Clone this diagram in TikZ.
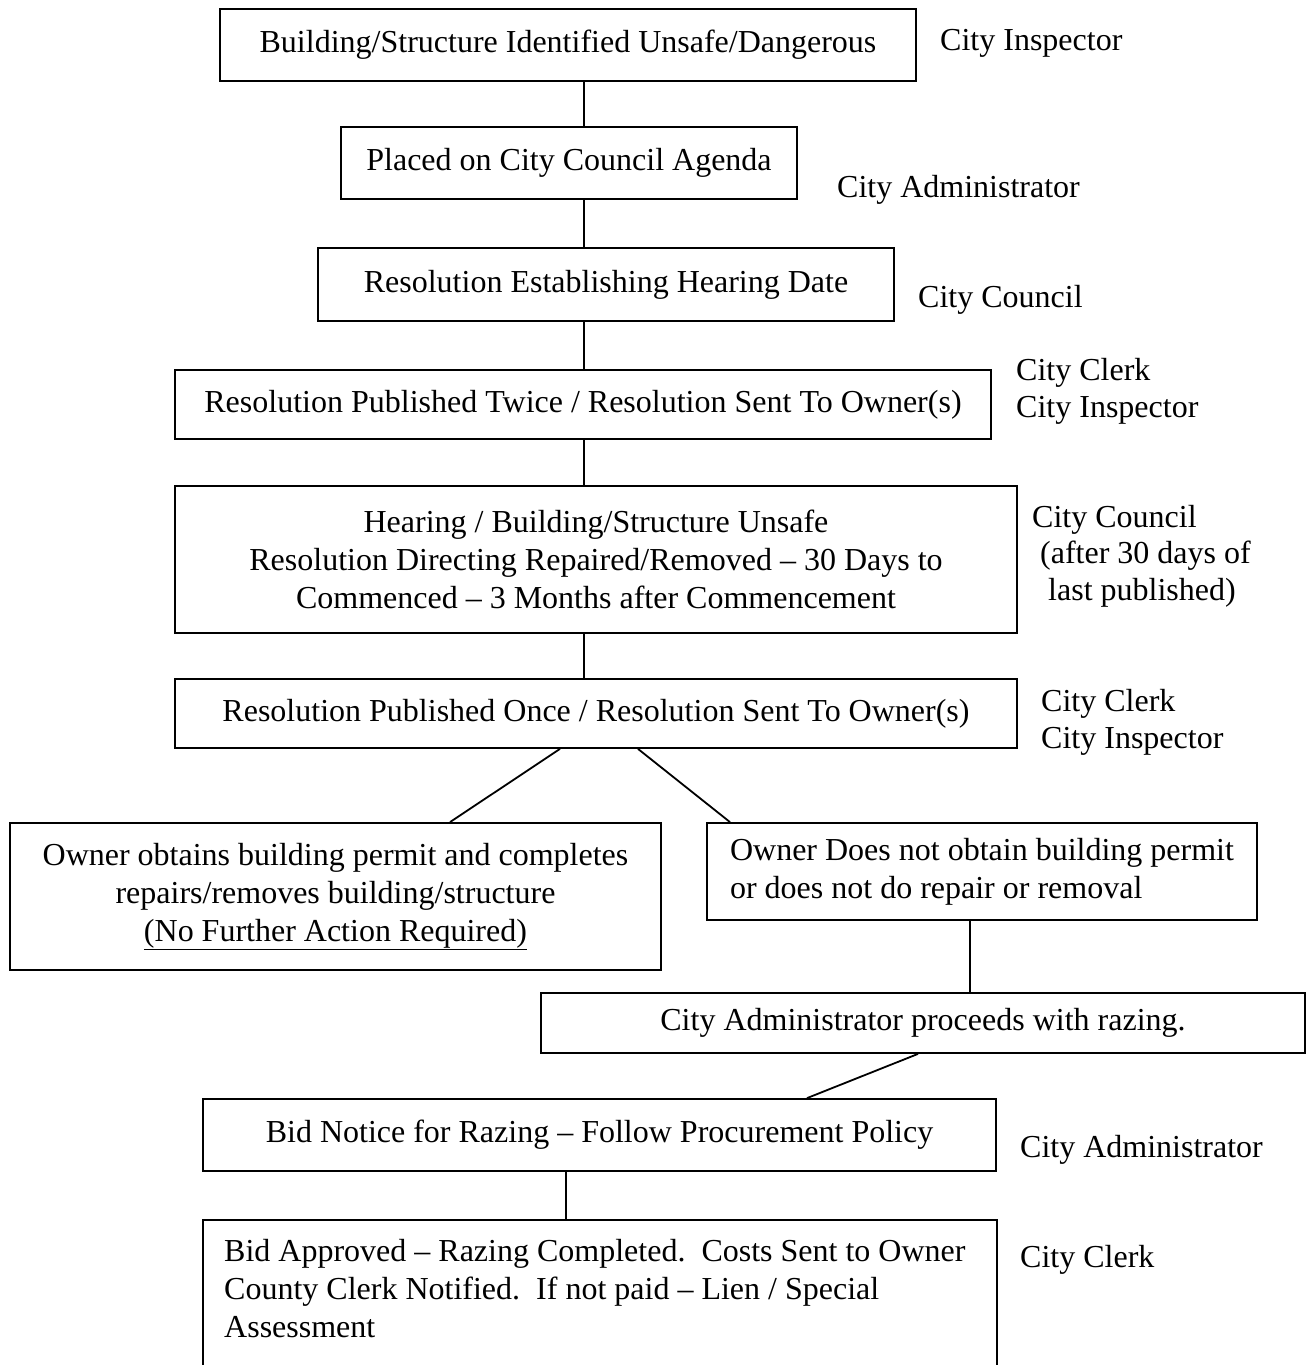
\documentclass[tikz,border=0pt]{standalone}
\usepackage{fontspec}
\setmainfont{Liberation Serif}
\begin{document}
\begin{tikzpicture}[x=1pt,y=-1pt,
  every node/.style={font=\fontsize{32}{38}\selectfont, inner sep=0pt},
  box/.style={draw, line width=1.8pt, align=center},
  lbl/.style={anchor=west, align=left},
  conn/.style={line width=1.8pt}]
\useasboundingbox (0,0) rectangle (1306,1365);
\coordinate (spine) at (584,0);
% boxes
\node[box, minimum width=696, minimum height=72] (b1) at (568,45) {Building/Structure Identified Unsafe/Dangerous};
\node[box, minimum width=456, minimum height=72] (b2) at (569,163) {Placed on City Council Agenda};
\node[box, minimum width=576, minimum height=73] (b3) at (606,284.5) {Resolution Establishing Hearing Date};
\node[box, minimum width=816, minimum height=69] (b4) at (583,404.5) {Resolution Published Twice / Resolution Sent To Owner(s)};
\node[box, minimum width=842, minimum height=147] (b5) at (596,559.5) {Hearing / Building/Structure Unsafe\\Resolution Directing Repaired/Removed -- 30 Days to\\Commenced -- 3 Months after Commencement};
\node[box, minimum width=842, minimum height=69] (b6) at (596,713.5) {Resolution Published Once / Resolution Sent To Owner(s)};
\node[box, minimum width=651, minimum height=147] (b7) at (335.5,896.5) {Owner obtains building permit and completes\\repairs/removes building/structure\\\underline{(No Further Action Required)}};
\node[box, minimum width=550, minimum height=97, align=left] (b8) at (982,871.5) {Owner Does not obtain building permit\\or does not do repair or removal};
\node[box, minimum width=764, minimum height=60] (b9) at (923,1023) {City Administrator proceeds with razing.};
\node[box, minimum width=793, minimum height=72] (b10) at (599.5,1135) {Bid Notice for Razing -- Follow Procurement Policy};
\node[minimum width=794, minimum height=146] (b11) at (600,1293) {};
\draw[conn] (b11.south west) |- (b11.north east) -- (b11.south east);
\node[anchor=north west, align=left] (t11) at (224,1239) {Bid Approved -- Razing Completed.\ \ Costs Sent to Owner\\County Clerk Notified.\ \ If not paid -- Lien / Special\\Assessment};
% labels
\node[lbl] (l1) at (940,43) {City Inspector};
\node[lbl] (l2) at (837,190) {City Administrator};
\node[lbl] (l3) at (918,300) {City Council};
\node[lbl] (l4a) at (1016,373) {City Clerk};
\node[lbl] (l4b) at (1016,410) {City Inspector};
\node[lbl] (l5a) at (1032,520) {City Council};
\node[lbl] (l5b) at (1040,556) {(after 30 days of};
\node[lbl] (l5c) at (1048,593) {last published)};
\node[lbl] (l6a) at (1041,704) {City Clerk};
\node[lbl] (l6b) at (1041,741) {City Inspector};
\node[lbl] (l10) at (1020,1150) {City Administrator};
\node[lbl] (l11) at (1020,1260) {City Clerk};
% connectors
\draw[conn] (b1.south -| spine) -- (b2.north -| spine);
\draw[conn] (b2.south -| spine) -- (b3.north -| spine);
\draw[conn] (b3.south -| spine) -- (b4.north -| spine);
\draw[conn] (b4.south -| spine) -- (b5.north -| spine);
\draw[conn] (b5.south -| spine) -- (b6.north -| spine);
\coordinate (d1) at (560,0);
\coordinate (d2) at (450,0);
\coordinate (d3) at (638,0);
\coordinate (d4) at (730,0);
\coordinate (d5) at (970,0);
\coordinate (d6) at (918,0);
\coordinate (d7) at (807,0);
\coordinate (d8) at (566,0);
\draw[conn] (b6.south -| d1) -- (b7.north -| d2);
\draw[conn] (b6.south -| d3) -- (b8.north -| d4);
\draw[conn] (b8.south -| d5) -- (b9.north -| d5);
\draw[conn] (b9.south -| d6) -- (b10.north -| d7);
\draw[conn] (b10.south -| d8) -- (b11.north -| d8);
\end{tikzpicture}
\end{document}
